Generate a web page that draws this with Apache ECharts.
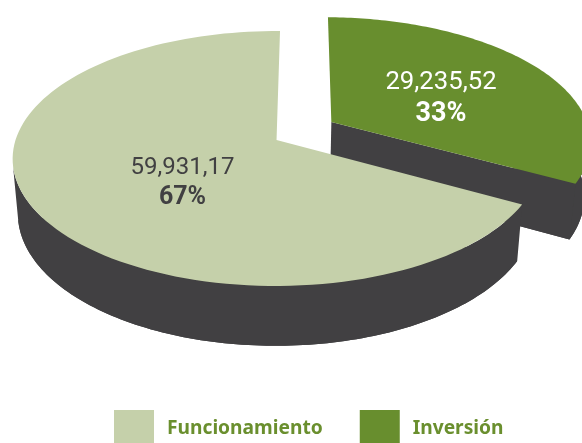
<!DOCTYPE html>
<html>
<head>
<meta charset="utf-8">
<style>html,body{margin:0;padding:0;background:#fff}#c{width:582px;height:443px}</style>
<script src="https://cdn.jsdelivr.net/npm/echarts@6/dist/echarts.min.js"></script>
</head>
<body>
<div id="c"></div>
<script>
const categories = ['Funcionamiento', 'Inversión'];
const values = [59931.17, 29235.52];
const valueLabels = ['59,931,17', '29,235,52'];
const percentLabels = ['67%', '33%'];

const COLORS = ['#c5d0aa', '#688e2e'];
const DARK = '#414042';
const total = values.reduce((a, b) => a + b, 0);

// perspective of the disc
const CX = 275.5, CY = 140, A = 261, B = 124.8, K = 0.145, SHEAR = 0.008, ROT = 0.012;
const FLOOR_SX = 0.98, FLOOR_SY = 1.04, FLOOR_D = 54;
const EXPLODE = [[0.004, 0], [0.218, 0.147]];
// part of each slice's edge whose wall faces the viewer, in radians clockwise from the top
const WALL_LIMIT = [258 * Math.PI / 180, 85 * Math.PI / 180];
const LABELS = [
  {x: 182.5, y1: 168, y2: 198, size: 24, pct: 25, color: DARK},
  {x: 441, y1: 83, y2: 114, size: 25.7, pct: 27, color: '#ffffff'}
];

function project(u, v, floor) {
  const den = 1 + K * v;
  const x = A * u / den, y = -B * v / den;
  let X = CX + x - SHEAR * y, Y = CY + y;
  if (floor) {
    X = CX + (X - CX) * FLOOR_SX;
    Y = CY + (Y - CY) * FLOOR_SY + FLOOR_D;
  }
  return [X, Y];
}
function rim(start, end, ex, floor) {
  const pts = [], n = 120;
  for (let i = 0; i <= n; i++) {
    const t = start + (end - start) * i / n + ROT;
    pts.push(project(ex[0] + Math.sin(t), ex[1] + Math.cos(t), floor));
  }
  return pts;
}
function renderer(idx) {
  return function (params, api) {
    const share = api.value(0) / total;
    // clockwise from the top: Inversión first, Funcionamiento closes the circle
    const invEnd = values[1] / total * Math.PI * 2;
    const start = idx === 1 ? 0 : invEnd;
    const end = start + share * Math.PI * 2;
    const ex = EXPLODE[idx];
    const wallStart = idx === 1 ? WALL_LIMIT[1] : start;
    const wallEnd = idx === 1 ? end : WALL_LIMIT[0];
    const top = rim(start, end, ex, false);
    const wallTop = rim(wallStart, wallEnd, ex, false);
    const wallBot = rim(wallStart, wallEnd, ex, true);
    const apexT = project(ex[0], ex[1], false);
    const apexB = project(ex[0], ex[1], true);
    const dark = {fill: DARK};
    const poly = (points, style) => ({type: 'polygon', shape: {points}, style});
    const L = LABELS[idx];
    const children = [
      poly([apexB].concat(wallBot), dark),
      poly(wallTop.concat(wallBot.slice().reverse()), dark)
    ];
    if (idx === 1) {
      children.push(poly([apexT, top[top.length - 1], wallBot[wallBot.length - 1], apexB], dark));
    }
    children.push(poly([apexT].concat(top), {fill: COLORS[idx]}));
    children.push({type: 'text', z2: 10, style: {
      x: L.x, y: L.y1, text: valueLabels[idx], fill: L.color, align: 'center', verticalAlign: 'middle',
      font: '400 ' + L.size + 'px Roboto'}});
    children.push({type: 'text', z2: 10, style: {
      x: L.x, y: L.y2, text: percentLabels[idx], fill: L.color, align: 'center', verticalAlign: 'middle',
      font: '700 ' + L.pct + 'px Roboto'}});
    return {type: 'group', children};
  };
}
const chart = echarts.init(document.getElementById('c'), null, {renderer: 'canvas'});
const legendFont = {color: '#6a8f2e', fontFamily: 'Noto Sans', fontWeight: 700, fontSize: 19.2};
chart.setOption({
  animation: false,
  backgroundColor: '#ffffff',
  legend: {
    data: categories,
    left: 114, top: 410, padding: 0,
    itemWidth: 40, itemHeight: 33, itemGap: 37, icon: 'rect',
    formatter: '{t|{name}}',
    textStyle: Object.assign({}, legendFont, {
      padding: [0, 0, 0, 8],
      rich: {t: Object.assign({}, legendFont, {padding: [5, 0, 0, 0]})}
    })
  },
  series: [1, 0].map(i => ({
    type: 'custom',
    name: categories[i],
    coordinateSystem: 'none',
    silent: true,
    itemStyle: {color: COLORS[i]},
    data: [[values[i]]],
    renderItem: renderer(i)
  }))
});
</script>
</body>
</html>
